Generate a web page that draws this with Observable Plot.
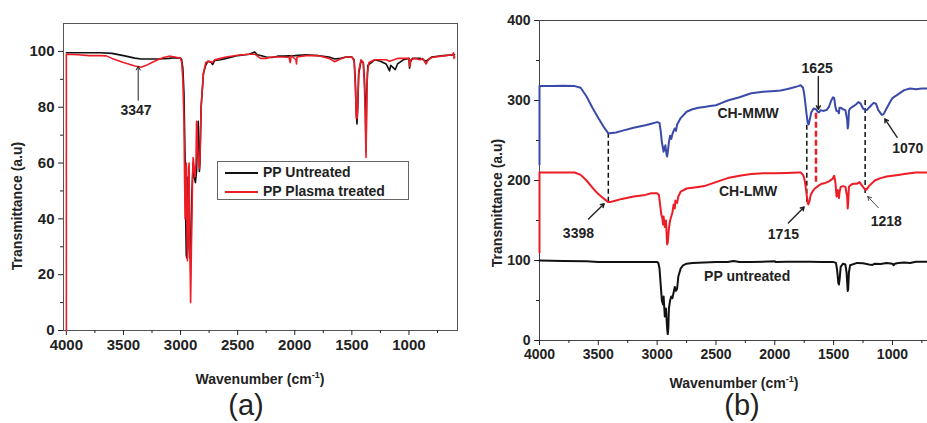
<!DOCTYPE html>
<html><head><meta charset="utf-8">
<script src="https://cdn.jsdelivr.net/npm/d3@7"></script>
<script src="https://cdn.jsdelivr.net/npm/@observablehq/plot@0.6"></script>
<style>
html,body{margin:0;padding:0;background:#fff;overflow:hidden;width:927px;height:423px}
#wrap{position:relative;width:927px;height:423px;overflow:hidden;font-family:"Liberation Sans",Arial,sans-serif;color:#222}
.abs{position:absolute;white-space:nowrap}
.xt{font-size:14px;font-weight:bold;transform:translate(-50%,-50%)}
.yt{font-size:14px;font-weight:bold;transform:translate(-50%,-50%) rotate(-90deg)}
.pl{font-size:29px;transform:translate(-50%,-50%)}
sup{font-size:9px;vertical-align:6px}
</style></head><body><div id="wrap"></div>
<script>
// ---------- Panel (a) data: [wavenumber, transmittance] ----------
const aUntreated = [[4000,99.5],[3900,99.5],[3800,99.5],[3700,99.5],[3600,99.3],[3500,98.5],[3400,97.6],[3347,97.3],[3300,97.3],[3200,97.3],[3100,97.5],[3050,97.7],[3000,97.6],[2990,97],[2980,94],[2970,85],[2960,60],[2955,40],[2950,27],[2945,26],[2940,35],[2935,55],[2930,45],[2925,30],[2920,26],[2915,26],[2910,35],[2900,50],[2890,60],[2880,55],[2870,53],[2860,57],[2850,70],[2845,75],[2840,65],[2835,57],[2830,60],[2820,80],[2800,92],[2780,95],[2760,96.5],[2730,96],[2720,95.3],[2700,96.8],[2650,97],[2600,97.5],[2500,98.5],[2400,99],[2350,99.8],[2330,98.8],[2300,98.5],[2250,98],[2200,97.8],[2150,98.3],[2100,98.3],[2000,98.5],[1900,98.8],[1800,98.5],[1700,98],[1650,97.3],[1600,97.5],[1550,98],[1500,98],[1480,97],[1470,90],[1462,78],[1455,74],[1448,80],[1440,92],[1420,96.5],[1400,96],[1390,90],[1380,78],[1376,64],[1370,85],[1360,95],[1300,97],[1250,96.5],[1200,95.5],[1170,93],[1160,95],[1120,93.5],[1100,95.5],[1050,97],[1000,97.5],[995,94],[990,96],[970,97.5],[900,97.5],[850,96.5],[800,98],[700,98.5],[600,98.8]];
const aPlasma = [[4000,0],[4000,99],[3900,98.8],[3800,98.5],[3700,98.5],[3650,98.4],[3600,97.5],[3500,96],[3400,94.8],[3347,94.3],[3300,95],[3250,96],[3200,97],[3150,97.8],[3100,98.3],[3050,98],[3000,97.5],[2990,96],[2980,90],[2970,75],[2965,55],[2960,40],[2955,55],[2950,60],[2945,40],[2940,25],[2935,35],[2930,58],[2925,60],[2920,30],[2915,20],[2912,10],[2908,20],[2905,30],[2900,40],[2895,55],[2890,62],[2885,60],[2875,55],[2865,60],[2860,75],[2855,72],[2850,65],[2840,60],[2835,58],[2830,62],[2820,80],[2800,92],[2780,96],[2750,96.5],[2720,96],[2700,97],[2650,97.5],[2600,98],[2500,98.6],[2400,99],[2350,99],[2300,97.5],[2250,97.5],[2200,98],[2100,98],[2050,97.8],[2040,96],[2030,98.5],[1990,97],[1985,95.5],[1980,98],[1900,98.5],[1800,98.5],[1700,97.5],[1650,96.3],[1600,97.3],[1550,98],[1500,98],[1480,96.5],[1470,88],[1460,76],[1455,76],[1448,82],[1440,93],[1420,97],[1400,96],[1390,88],[1380,70],[1376,62],[1372,75],[1365,92],[1350,96],[1300,97],[1250,97],[1200,97],[1170,96.5],[1100,97.5],[1050,97.5],[1000,97.5],[995,95],[990,94.5],[985,97],[950,97.5],[900,97],[880,97.5],[850,95.5],[830,97],[800,97.8],[700,98.4],[620,98.8],[610,99.5],[605,97.5],[600,98]];
const aXTicks = [4000,3500,3000,2500,2000,1500,1000];
const aXMinor = [3750,3250,2750,2250,1750,1250,750];
const aYTicks = [0,20,40,60,80,100];
const aYMinor = [10,30,50,70,90];
const aNotes = [{x:3390, y:78.7, label:"3347"}];
const aArrows = [{x1:3371, y1:82.5, x2:3371, y2:94.6}];

// ---------- Panel (b) data ----------
const bMMW = [[4000,220],[4000,318],[3900,318],[3800,318.5],[3700,318],[3650,316],[3600,305],[3550,291],[3500,278],[3450,266],[3415,259],[3400,259],[3350,260],[3300,262],[3200,266],[3100,269],[3050,271],[3000,273],[2980,272],[2970,262],[2960,248],[2950,240],[2945,236],[2940,242],[2935,238],[2930,244],[2920,232],[2915,230],[2910,235],[2900,248],[2890,256],[2880,252],[2870,258],[2860,262],[2850,265],[2840,262],[2830,270],[2800,278],[2750,286],[2700,289],[2650,291],[2600,292],[2550,293],[2500,294],[2450,297],[2400,300],[2300,304],[2200,309],[2100,311],[2000,312],[1950,312.5],[1900,314],[1850,316],[1800,318],[1780,319],[1760,316],[1750,308],[1740,296],[1730,283],[1720,272],[1712,270],[1700,278],[1690,285],[1670,290],[1650,289],[1635,286],[1625,285],[1610,288],[1590,287],[1560,288],[1540,292],[1520,300],[1505,304],[1495,303],[1485,292],[1475,287],[1460,286],[1455,284],[1450,291],[1440,291],[1420,289],[1400,288],[1385,276],[1380,265],[1375,270],[1370,287],[1360,290],[1340,292],[1310,295],[1290,298],[1270,296],[1250,290],[1230,288],[1218,288],[1200,291],[1180,294],[1160,297],[1140,296],[1120,288],[1100,284],[1090,282],[1075,283],[1050,290],[1020,298],[1000,303],[950,308],[900,313],[850,315],[800,314],[750,315],[700,315],[600,314]];
const bLMW = [[4000,110],[4000,210],[3900,210],[3800,210],[3700,210],[3650,207],[3600,200],[3550,191],[3500,183],[3450,177],[3415,173],[3400,173],[3350,175],[3300,177],[3200,180],[3100,182],[3050,184],[3000,184],[2985,182],[2975,170],[2965,158],[2955,152],[2950,145],[2945,155],[2935,142],[2925,150],[2915,120],[2910,122],[2900,140],[2890,150],[2880,155],[2870,160],[2860,170],[2850,165],[2845,175],[2830,172],[2820,180],[2800,186],[2750,190],[2700,191],[2650,192],[2600,193],[2500,198],[2400,203],[2300,206],[2200,208],[2100,209],[2000,209],[1900,209.5],[1800,210],[1780,210],[1760,207],[1750,203],[1740,195],[1730,183],[1720,172],[1715,170],[1705,174],[1695,182],[1680,186],[1660,190],[1640,192],[1625,194],[1600,196],[1570,197],[1540,199],[1510,202],[1495,206],[1485,198],[1475,180],[1465,188],[1455,178],[1450,185],[1440,192],[1420,193],[1400,192],[1385,180],[1380,165],[1375,175],[1370,192],[1350,195],[1330,196],[1300,196],[1280,198],[1260,194],[1240,190],[1225,188],[1218,189],[1200,193],[1150,200],[1100,203],[1050,205],[1000,206],[950,207],[900,208],[850,209],[800,210],[700,210],[600,210]];
const bPP = [[4000,100],[3800,99.5],[3600,99],[3500,98],[3400,98],[3200,98],[3000,98],[2990,97],[2980,90],[2970,70],[2960,50],[2950,45],[2945,55],[2935,30],[2925,40],[2915,15],[2910,8],[2905,15],[2900,40],[2890,50],[2880,55],[2870,53],[2860,60],[2850,67],[2840,62],[2830,65],[2820,80],[2800,90],[2780,94],[2750,96],[2700,97],[2600,97.5],[2500,98],[2400,98],[2350,99.5],[2300,98],[2200,98],[2000,99],[1990,98],[1900,98.5],[1800,98.5],[1700,98.5],[1600,98],[1500,98],[1480,97],[1470,88],[1460,72],[1455,70],[1448,78],[1440,92],[1420,96],[1400,95],[1390,85],[1380,62],[1376,64],[1370,85],[1360,94],[1300,97],[1250,96.5],[1200,95],[1170,94.5],[1150,96],[1100,95.5],[1050,97],[1000,96],[990,94],[980,96],[950,97],[900,97.5],[850,97],[800,98.5],[700,98.5],[600,98.5]];
const bXTicks = [4000,3500,3000,2500,2000,1500,1000];
const bXMinor = [3750,3250,2750,2250,1750,1250,750];
const bYTicks = [0,100,200,300,400];
const bYMinor = [50,150,250,350];
const bNotes = [
  {x:2227, y:283.5, label:"CH-MMW"},
  {x:2227, y:186, label:"CH-LMW"},
  {x:2235, y:80, label:"PP untreated"},
  {x:1640, y:340, label:"1625"},
  {x:3669, y:134, label:"3398"},
  {x:1927, y:132.5, label:"1715"},
  {x:1052, y:149, label:"1218"},
  {x:870, y:240, label:"1070"}
];
const bDashBlack = [{x:3415, y1:259, y2:173},{x:1728, y1:269, y2:171},{x:1232, y1:300, y2:183}];
const bDashRed = [{x:1650, y1:284, y2:196}];
const bArrows = [
  {x1:1630, y1:330, x2:1630, y2:289, w:1.4},
  {x1:3584, y1:152, x2:3450, y2:171, w:1.4},
  {x1:1885, y1:147, x2:1750, y2:167, w:1.4},
  {x1:1120, y1:166, x2:1210, y2:180, w:0.8},
  {x1:960, y1:254, x2:1065, y2:277, w:1.4}
];

const FONT = "Liberation Sans, Arial, sans-serif";
const toRows = (arr, s) => arr.map(([x, y]) => ({x, y, s}));

const wrap = document.getElementById("wrap");
function place(el, left, top) { el.style.position = "absolute"; el.style.left = left + "px"; el.style.top = top + "px"; wrap.appendChild(el); }

// ---------- Panel (a) ----------
const plotA = Plot.plot({
  width: 470, height: 360,
  marginLeft: 63, marginRight: 13, marginTop: 23, marginBottom: 30,
  x: {domain: [4025, 575]},
  y: {domain: [0, 110]},
  style: {fontFamily: FONT, background: "transparent", overflow: "visible"},
  marks: [
    Plot.frame({stroke: "#555", strokeWidth: 1}),
    Plot.axisX({ticks: aXTicks, tickSize: 5, tickPadding: 4, tickFormat: d => String(d), fontSize: 15, fontWeight: "bold", fill: "#222", label: null}),
    Plot.axisX({ticks: aXMinor, tickSize: 3, text: null, label: null}),
    Plot.axisY({ticks: aYTicks, tickSize: 5, tickPadding: 4, tickFormat: d => String(d), fontSize: 15, fontWeight: "bold", fill: "#222", label: null}),
    Plot.axisY({ticks: aYMinor, tickSize: 3, text: null, label: null}),
    Plot.line(toRows(aUntreated, "u"), {x: "x", y: "y", stroke: "#111", strokeWidth: 1.6}),
    Plot.line(toRows(aPlasma, "p"), {x: "x", y: "y", stroke: "#ee1c25", strokeWidth: 1.6}),
    Plot.arrow(aArrows, {x1: "x1", y1: "y1", x2: "x2", y2: "y2", stroke: "#222", strokeWidth: 1, headLength: 6}),
    Plot.text(aNotes, {x: "x", y: "y", text: "label", fontSize: 14, fontWeight: "bold", fill: "#222"})
  ]
});
place(plotA, 0, 0);

// legend (a)
const leg = document.createElement("div");
leg.style.cssText = "width:190px;height:37px;border:1px solid #666;background:#fff;font-size:14px;font-weight:bold;";
leg.innerHTML = '<div style="position:absolute;left:7px;top:10px;width:33px;height:2px;background:#111"></div><div style="position:absolute;left:45px;top:2px">PP Untreated</div>' +
  '<div style="position:absolute;left:7px;top:29px;width:33px;height:2px;background:#ee1c25"></div><div style="position:absolute;left:45px;top:21px">PP Plasma treated</div>';
place(leg, 217, 161);

// ---------- Panel (b) ----------
const plotB = Plot.plot({
  width: 480, height: 360,
  marginLeft: 69, marginRight: 11, marginTop: 20, marginBottom: 20,
  x: {domain: [4000, 600]},
  y: {domain: [0, 400]},
  style: {fontFamily: FONT, background: "transparent", overflow: "visible"},
  marks: [
    Plot.frame({stroke: "#444", strokeWidth: 1}),
    Plot.axisX({ticks: bXTicks, tickSize: 5, tickPadding: 4, tickFormat: d => String(d), fontSize: 14, fontWeight: "bold", fill: "#222", label: null}),
    Plot.axisX({ticks: bXMinor, tickSize: 3, text: null, label: null}),
    Plot.axisY({ticks: bYTicks, tickSize: 5, tickPadding: 4, tickFormat: d => String(d), fontSize: 14, fontWeight: "bold", fill: "#222", label: null}),
    Plot.axisY({ticks: bYMinor, tickSize: 3, text: null, label: null}),
    Plot.ruleX(bDashBlack, {x: "x", y1: "y1", y2: "y2", stroke: "#111", strokeWidth: 1.5, strokeDasharray: "5,3"}),
    Plot.ruleX(bDashRed, {x: "x", y1: "y1", y2: "y2", stroke: "#ee1c25", strokeWidth: 2.5, strokeDasharray: "6,3"}),
    Plot.line(toRows(bPP, "pp"), {x: "x", y: "y", stroke: "#111", strokeWidth: 2}),
    Plot.line(toRows(bLMW, "l"), {x: "x", y: "y", stroke: "#ee1c25", strokeWidth: 2}),
    Plot.line(toRows(bMMW, "m"), {x: "x", y: "y", stroke: "#3a4aa8", strokeWidth: 2}),
    Plot.arrow(bArrows, {x1: "x1", y1: "y1", x2: "x2", y2: "y2", stroke: "#222", strokeWidth: "w", headLength: 6}),
    Plot.text(bNotes, {x: "x", y: "y", text: "label", fontSize: 14, fontWeight: "bold", fill: "#222"})
  ]
});
place(plotB, 470, 0);

// axis titles and panel labels
function label(html, cls, left, top) { const d = document.createElement("div"); d.className = "abs " + cls; d.innerHTML = html; d.style.left = left + "px"; d.style.top = top + "px"; wrap.appendChild(d); }
label("Wavenumber (cm<sup>-1</sup>)", "xt", 260, 378);
label("Transmittance (a.u)", "yt", 17, 206);
label("(a)", "pl", 246, 405);
label("Wavenumber (cm<sup>-1</sup>)", "xt", 734, 382);
label("Transmittance (a.u)", "yt", 497, 203);
label("(b)", "pl", 742, 405);
</script>
</body></html>
